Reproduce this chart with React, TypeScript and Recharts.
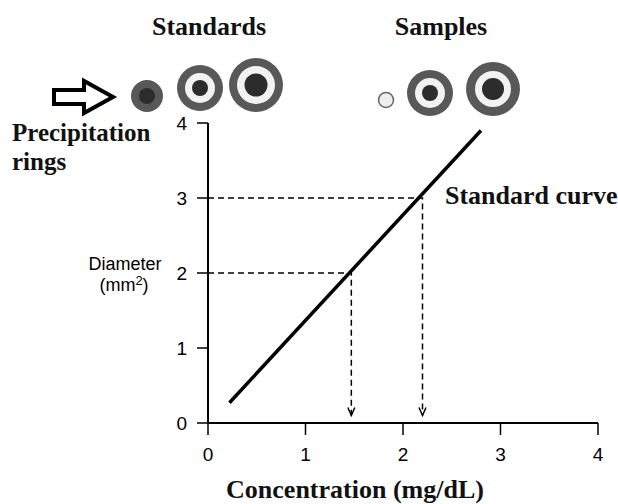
import { LineChart, Line, XAxis, YAxis } from "recharts";

// standard curve
const curveConc = [0.22, 2.8];
const curveDiam = [0.27, 3.9];

// samples
const sampleConc = [1.47, 2.2];
const sampleDiam = [2, 3];
const arrowStop = 0.1;

const xTicks = [0, 1, 2, 3, 4];
const yTicks = [0, 1, 2, 3, 4];

const curveData = curveConc.map((x, i) => ({ x, y: curveDiam[i] }));
const sampleData = sampleConc.map((x, i) => [
  { x: 0, y: sampleDiam[i] },
  { x, y: sampleDiam[i] },
  { x, y: arrowStop },
]);

const serif = '"Liberation Serif", "Times New Roman", serif';
const sans = '"Liberation Sans", Arial, sans-serif';

const ArrowDot = (props: any) => {
  const { cx, cy, index } = props;
  if (index !== 2) return <g key={`d${index}`} />;
  return (
    <path
      key={`d${index}`}
      d={`M${cx - 3.5},${cy - 8} L${cx},${cy} L${cx + 3.5},${cy - 8}`}
      fill="none"
      stroke="#000"
      strokeWidth={1.5}
    />
  );
};

const Ring = ({ cx, cy, r, white, core }: any) => (
  <g>
    <circle cx={cx} cy={cy} r={r} fill="#585858" />
    {white ? <circle cx={cx} cy={cy} r={white} fill="#f2f2f2" /> : null}
    <circle cx={cx} cy={cy} r={core} fill="#2c2c2c" />
  </g>
);

export default function App() {
  return (
    <div style={{ position: "absolute", left: 0, top: 0, width: 618, height: 504, background: "#fff" }}>
      <LineChart
        width={618}
        height={504}
        margin={{ top: 123, right: 20, bottom: 28, left: 150 }}
      >
        <XAxis
          type="number"
          dataKey="x"
          domain={[0, 4]}
          ticks={xTicks}
          allowDuplicatedCategory={false}
          height={53}
          stroke="#000"
          axisLine={{ stroke: "#000", strokeWidth: 2 }}
          tickLine={{ stroke: "#000", strokeWidth: 1.5 }}
          tickSize={12}
          tickMargin={13}
          tick={{ fill: "#000", fontSize: 19, fontFamily: sans }}
        />
        <YAxis
          type="number"
          dataKey="y"
          domain={[0, 4]}
          ticks={yTicks}
          width={58}
          stroke="#000"
          axisLine={{ stroke: "#000", strokeWidth: 2 }}
          tickLine={{ stroke: "#000", strokeWidth: 1.5 }}
          tickSize={11}
          tickMargin={10}
          tick={{ fill: "#000", fontSize: 19, fontFamily: sans }}
        />
        {sampleData.map((d, i) => (
          <Line
            key={i}
            data={d}
            dataKey="y"
            type="linear"
            stroke="#000"
            strokeWidth={1.5}
            strokeDasharray="6 4"
            dot={ArrowDot}
            activeDot={false}
            isAnimationActive={false}
          />
        ))}
        <Line
          data={curveData}
          dataKey="y"
          type="linear"
          stroke="#000"
          strokeWidth={3.5}
          dot={false}
          activeDot={false}
          isAnimationActive={false}
        />
      </LineChart>
      <svg
        width={618}
        height={504}
        style={{ position: "absolute", left: 0, top: 0, pointerEvents: "none" }}
      >
        <g fontFamily={serif} fontWeight="bold" fontSize={26} fill="#111">
          <text x={209} y={35} textAnchor="middle">Standards</text>
          <text x={441} y={35} textAnchor="middle">Samples</text>
          <text x={445} y={204}>Standard curve</text>
          <text x={355} y={498} textAnchor="middle">Concentration (mg/dL)</text>
        </g>
        <g fontFamily={serif} fontWeight="bold" fontSize={25} fill="#111">
          <text x={12} y={141}>Precipitation</text>
          <text x={12} y={170}>rings</text>
        </g>
        <text x={125} y={270} textAnchor="middle" fontFamily={sans} fontSize={18}>Diameter</text>
        <text x={124} y={291} textAnchor="middle" fontFamily={sans} fontSize={18}>
          (mm<tspan dy={-6} fontSize={13}>2</tspan><tspan dy={6}>)</tspan>
        </text>
        <path
          d="M54,90 L84,90 L84,81 L113,97 L84,113 L84,104 L54,104 Z"
          fill="#fff"
          stroke="#000"
          strokeWidth={4}
        />
        <Ring cx={147} cy={96} r={16} core={8} />
        <Ring cx={200} cy={88} r={23} white={15} core={8} />
        <Ring cx={256} cy={85} r={27} white={19} core={11.5} />
        <circle cx={386} cy={100} r={7.5} fill="#eee" stroke="#666" strokeWidth={1.5} />
        <Ring cx={430} cy={93} r={23} white={15} core={8} />
        <Ring cx={493} cy={89} r={27} white={18} core={11} />
      </svg>
    </div>
  );
}
